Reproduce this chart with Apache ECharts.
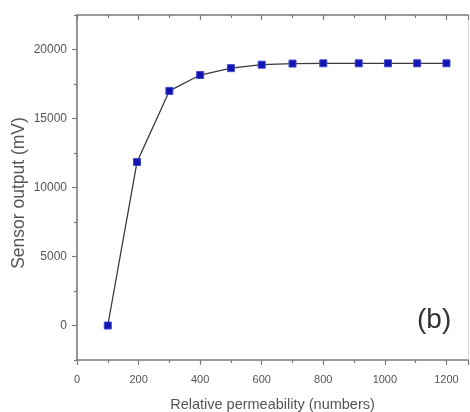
<!DOCTYPE html>
<html>
<head>
<meta charset="utf-8">
<script src="https://cdn.jsdelivr.net/npm/echarts@6/dist/echarts.min.js"></script>
<style>
  html, body { margin: 0; padding: 0; background: #fff; }
  #chart { width: 470px; height: 412px; }
</style>
</head>
<body>
<div id="chart"></div>
<script>
// data
var permeability = [100, 195, 300, 400, 500, 600, 700, 800, 915, 1010, 1105, 1200];
var sensorOutput = [0, 11850, 17000, 18150, 18650, 18900, 18980, 19000, 19000, 19000, 19000, 19000];
// y ticks
var yMajorTicks = [0, 5000, 10000, 15000, 20000];
var yMinorTicks = [-2500, 2500, 7500, 12500, 17500, 22500];

var axisColor = '#7a7a7a';
var textColor = '#555';
var fontName = 'Liberation Sans';

var myChart = echarts.init(document.getElementById('chart'));

var points = permeability.map(function (x, i) { return [x, sensorOutput[i]]; });

// plain numbers, no thousands separator
function plain(v) { return String(v); }

myChart.setOption({
  animation: false,
  textStyle: { fontFamily: fontName },
  grid: { left: 77, top: 15, right: 2, bottom: 52, outerBoundsMode: 'none' },
  xAxis: [
    {
      type: 'value',
      min: 0,
      max: 1270,
      interval: 200,
      name: 'Relative permeability (numbers)',
      nameLocation: 'middle',
      nameGap: 37,
      nameMoveOverlap: false,
      nameTextStyle: { color: textColor, fontSize: 14.5, fontFamily: fontName },
      axisLine: { onZero: false, lineStyle: { color: axisColor, width: 1.6 } },
      axisTick: { length: 5, lineStyle: { color: axisColor, width: 1.2 } },
      minorTick: { show: true, splitNumber: 2, length: 3, lineStyle: { color: axisColor, width: 1.2 } },
      axisLabel: { color: textColor, fontSize: 11, margin: 14, showMaxLabel: false, formatter: plain },
      splitLine: { show: false }
    },
    {
      type: 'value',
      position: 'top',
      min: 0,
      max: 1270,
      interval: 200,
      axisLine: { onZero: false, lineStyle: { color: axisColor, width: 1.6 } },
      axisTick: { inside: true, length: 5, lineStyle: { color: axisColor, width: 1.2 } },
      minorTick: { show: true, splitNumber: 2, length: 3, lineStyle: { color: axisColor, width: 1.2 } },
      axisLabel: { show: false },
      splitLine: { show: false }
    }
  ],
  yAxis: [
    {
      type: 'value',
      min: -2500,
      max: 22500,
      name: 'Sensor output (mV)',
      nameLocation: 'middle',
      nameGap: 49,
      nameMoveOverlap: false,
      nameTextStyle: { color: textColor, fontSize: 17.5, fontFamily: fontName, padding: [0, 11, 0, 0] },
      axisLine: { onZero: false, lineStyle: { color: axisColor, width: 1.6 } },
      axisTick: { length: 5, customValues: yMajorTicks, lineStyle: { color: axisColor, width: 1.2 } },
      axisLabel: { color: textColor, fontSize: 12, margin: 10, customValues: yMajorTicks, formatter: plain },
      splitLine: { show: false }
    },
    {
      type: 'value',
      min: -2500,
      max: 22500,
      position: 'left',
      axisLine: { show: false },
      axisTick: { length: 3, customValues: yMinorTicks, lineStyle: { color: axisColor, width: 1.2 } },
      axisLabel: { show: false },
      splitLine: { show: false }
    },
    {
      type: 'value',
      min: -2500,
      max: 22500,
      position: 'right',
      axisLine: { onZero: false, lineStyle: { color: '#d8d8d8', width: 1 } },
      axisTick: { show: false },
      axisLabel: { show: false },
      splitLine: { show: false }
    }
  ],
  graphic: [
    {
      type: 'text',
      left: 417,
      top: 306,
      style: { text: '(b)', fill: '#333', fontSize: 28, fontFamily: fontName }
    }
  ],
  series: [
    {
      type: 'line',
      data: points,
      symbol: 'rect',
      symbolSize: 7,
      itemStyle: { color: '#1414b0', borderColor: '#3c48d0', borderWidth: 1 },
      lineStyle: { color: '#3a3a3a', width: 1.3 }
    }
  ]
});
</script>
</body>
</html>
